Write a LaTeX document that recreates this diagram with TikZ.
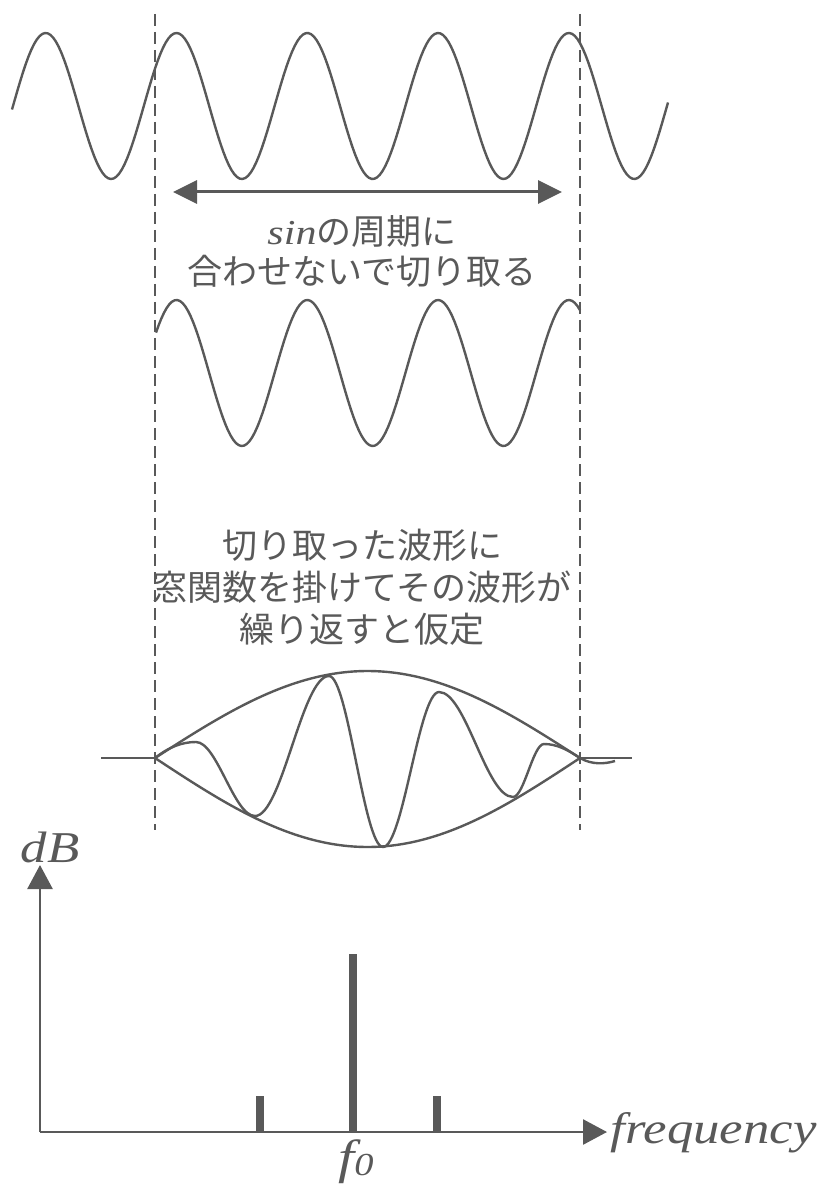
\documentclass[tikz,border=0pt]{standalone}
\usepackage{fontspec}
\newfontfamily\jpfont{Noto Sans CJK JP}
\newfontfamily\latinfont{Liberation Serif}[FakeStretch=1.2]
\usepackage{tikz}
\usetikzlibrary{arrows.meta}
\definecolor{ink}{HTML}{595959}

\begin{document}
\begin{tikzpicture}[x=0.5pt, y=-0.5pt,
  wave/.style={ink, line width=1.2pt},
  guide/.style={ink, line width=1pt, dash pattern=on 6pt off 3pt},
  axis/.style={ink, line width=1.3pt, -{Triangle[length=12pt, width=12.5pt]}},
  span/.style={ink, line width=1.5pt, {Triangle[length=12pt, width=11.5pt]}-{Triangle[length=12pt, width=11.5pt]}},
  bar/.style={ink, line width=4pt},
  note/.style={text=ink, align=center, inner sep=0pt, font=\jpfont\fontsize{17.5pt}{20pt}\selectfont},
  lbl/.style={text=ink, inner sep=0pt, font=\latinfont\itshape\fontsize{22pt}{26pt}\selectfont}
]
\useasboundingbox (0,0) rectangle (830,1187);

\draw[guide] (155,14) -- (155,830);
\draw[guide] (580,14) -- (580,830);

\draw[wave] plot[domain=12:668, samples=240] (\x, {106-73*sin((\x-13)*2.7523)});
\coordinate (cutL) at (173,192);
\coordinate (cutR) at (562,192);
\draw[span] (cutL) -- (cutR);
\node[note] (cut) at (362,251) {{\latinfont\itshape sin}の周期に\\合わせないで切り取る};

\draw[wave] plot[domain=156:580, samples=160] (\x, {373-73*sin((\x-13)*2.7523)});
\node[note, font=\jpfont\fontsize{17.5pt}{21pt}\selectfont] (assume) at (362,587)
  {切り取った波形に\\窓関数を掛けてその波形が\\繰り返すと仮定};

\draw[wave] (101,758) -- (155,758);
\draw[wave] (580,758) -- (632,758);
\draw[wave] plot[domain=155:580, samples=80] (\x, {758-87*sin((\x-155)*0.42353)});
\draw[wave] plot[domain=155:580, samples=80] (\x, {758+89*sin((\x-155)*0.42353)});
\draw[wave] (155,758) .. controls +(14,-11) and +(-14,0) .. (196,742)
  .. controls +(21,0) and +(-21,0) .. (255,816)
  .. controls +(27,0) and +(-27,0) .. (329,676)
  .. controls +(19,0) and +(-19,0) .. (383,847)
  .. controls +(20,0) and +(-20,0) .. (439,692)
  .. controls +(27,0) and +(-27,0) .. (513,797)
  .. controls +(11,0) and +(-11,0) .. (544,744)
  .. controls +(13,0) and +(-12,-8) .. (580,758)
  .. controls +(12,7) and +(-10,3) .. (615,761);

\coordinate (O) at (40,1132);
\coordinate (ytip) at (40,865);
\coordinate (xtip) at (607,1132);
\draw[axis] (O) -- (ytip);
\draw[axis] (O) -- (xtip);
\draw[bar] (260,1132) -- (260,1096);
\draw[bar] (353,1132) -- (353,954);
\draw[bar] (437,1132) -- (437,1096);
\node[lbl, anchor=base] (dB) at (50,862) {dB};
\node[lbl, anchor=base west] (freq) at (610,1143) {frequency};
\node[lbl, anchor=base] (f0) at (356,1173)
  {\fontsize{24pt}{28pt}\selectfont f\raisebox{-1pt}{\fontsize{16pt}{18pt}\selectfont 0}};
\end{tikzpicture}
\end{document}
